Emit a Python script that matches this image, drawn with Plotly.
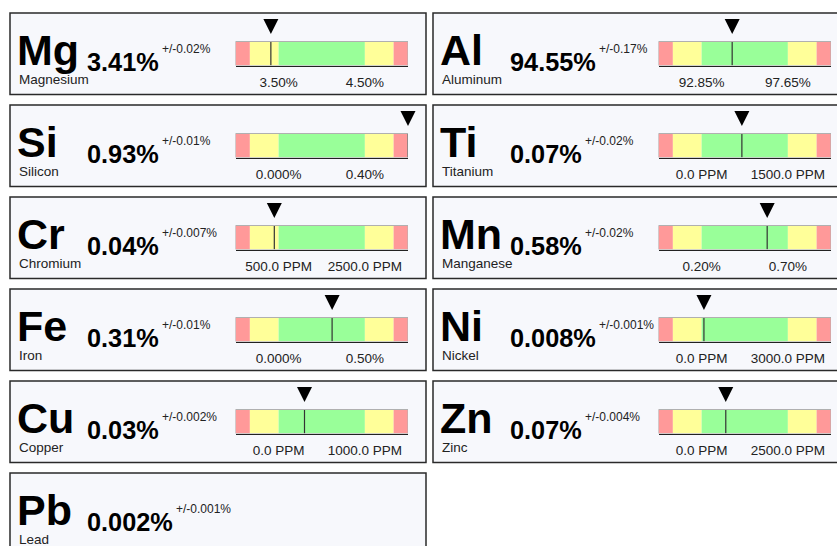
import plotly.graph_objects as go

# Element results, laid out row by row (two panels per row)
symbols = ["Mg", "Al", "Si", "Ti", "Cr", "Mn", "Fe", "Ni", "Cu", "Zn", "Pb"]
names = ["Magnesium", "Aluminum", "Silicon", "Titanium", "Chromium", "Manganese",
         "Iron", "Nickel", "Copper", "Zinc", "Lead"]
values = [3.41, 94.55, 0.93, 0.07, 0.04, 0.58, 0.31, 0.008, 0.03, 0.07, 0.002]          # %
uncertainties = [0.02, 0.17, 0.01, 0.02, 0.007, 0.02, 0.01, 0.001, 0.002, 0.004, 0.001]  # %
spec_min = [3.50, 92.85, 0.0, 0.0, 0.05, 0.20, 0.0, 0.0, 0.0, 0.0, None]                # %
spec_max = [4.50, 97.65, 0.40, 0.15, 0.25, 0.70, 0.50, 0.30, 0.10, 0.25, None]          # %
min_labels = ["3.50%", "92.85%", "0.000%", "0.0 PPM", "500.0 PPM", "0.20%",
              "0.000%", "0.0 PPM", "0.0 PPM", "0.0 PPM", None]
max_labels = ["4.50%", "97.65%", "0.40%", "1500.0 PPM", "2500.0 PPM", "0.70%",
              "0.50%", "3000.0 PPM", "1000.0 PPM", "2500.0 PPM", None]

ZONE_COLORS = ["#ff9999", "#ffff99", "#99ff99", "#ffff99", "#ff9999"]
FONT = "Liberation Sans, Arial, sans-serif"

W, H = 837, 546
COL_X = [10, 433]
PANEL_W, PANEL_H = 416, 81.5
ROW_Y0, ROW_STEP = 13, 92
BAR_PX = 24          # gauge bar height in pixels
HEAD_PX = 23.5       # room above the bar for the pointer

# Liberation Sans Bold advance widths (em) for the value strings
BOLD_W = {**{d: 0.556 for d in "0123456789"}, ".": 0.278, "%": 0.889}


def px(x):
    return x / W


def py(y):
    return 1 - y / H


annotations = []
shapes = []
layout_axes = {}
traces = []


def text_at(x, baseline, text, size, color, bold=False):
    center = baseline - 0.3465 * size
    annotations.append(dict(
        xref="paper", yref="paper", x=px(x), y=py(center),
        xanchor="left", yanchor="middle", text=text, showarrow=False,
        borderpad=0, borderwidth=0,
        font=dict(family=FONT, size=size, color=color,
                  weight="bold" if bold else "normal"),
    ))


ax_k = 0
for i, sym in enumerate(symbols):
    L = COL_X[i % 2]
    T = ROW_Y0 + ROW_STEP * (i // 2)

    shapes.append(dict(type="rect", xref="paper", yref="paper", layer="below",
                       x0=px(L), x1=px(L + PANEL_W), y0=py(T + PANEL_H), y1=py(T),
                       fillcolor="#f7f8fc", line=dict(color="#2a2a2a", width=1.5)))

    text_at(L + 7, T + 52, sym, 43, "#000", bold=True)
    text_at(L + 8.5, T + 71, names[i], 13.5, "#222")

    vtxt = f"{values[i]}%"
    vw = sum(BOLD_W[c] for c in vtxt) * 25.3
    text_at(L + 77, T + 57.5, vtxt, 25.3, "#000", bold=True)
    text_at(L + 77 + vw + 3, T + 40.5, f"+/-{uncertainties[i]}%", 12, "#222")

    if spec_min[i] is None:
        continue

    ax_k += 1
    xname = "xaxis" if ax_k == 1 else f"xaxis{ax_k}"
    yname = "yaxis" if ax_k == 1 else f"yaxis{ax_k}"
    xref = "x" if ax_k == 1 else f"x{ax_k}"
    yref = "y" if ax_k == 1 else f"y{ax_k}"

    mn, mx = spec_min[i], spec_max[i]
    span = mx - mn
    lo, hi = mn - span / 2, mx + span / 2
    edges = [lo, mn - span / 3, mn, mx, mx + span / 3, hi]

    # coloured tolerance zones
    traces.append(go.Bar(
        x=[edges[j + 1] - edges[j] for j in range(5)], base=edges[:5], y=[0] * 5,
        orientation="h", width=1, marker=dict(color=ZONE_COLORS, line=dict(width=0)),
        xaxis=xref, yaxis=yref, hoverinfo="skip", showlegend=False,
    ))
    # thin frame round the gauge
    shapes.append(dict(type="rect", xref=xref, yref=yref, x0=lo, x1=hi, y0=-0.5, y1=0.5,
                       line=dict(color="#b0b0b0", width=1), layer="above"))

    v = min(max(values[i], lo), hi)
    traces.append(go.Scatter(
        x=[v, v], y=[-0.5, 0.5], mode="lines", line=dict(color="#333", width=1.2),
        xaxis=xref, yaxis=yref, hoverinfo="skip", showlegend=False,
    ))
    traces.append(go.Scatter(
        x=[v], y=[0.5 + 7.5 / BAR_PX], mode="markers",
        marker=dict(symbol="arrow-down", size=15, color="#000"),
        cliponaxis=False, xaxis=xref, yaxis=yref, hoverinfo="skip", showlegend=False,
    ))

    layout_axes[xname] = dict(
        domain=[px(L + 225.5), px(L + 398)], range=[lo, hi], anchor=yref,
        showgrid=False, zeroline=False, showline=True, linecolor="#222", linewidth=1.2,
        tickmode="array", tickvals=[mn, mx], ticktext=[min_labels[i], max_labels[i]],
        ticks="", tickangle=0, ticklabelstandoff=4,
        tickfont=dict(family=FONT, size=13.5, color="#222"), fixedrange=True,
    )
    layout_axes[yname] = dict(
        domain=[py(T + 28.5 + BAR_PX), py(T + 28.5 - HEAD_PX)],
        range=[-0.5, 0.5 + HEAD_PX / BAR_PX], anchor=xref,
        showgrid=False, zeroline=False, showticklabels=False, ticks="",
        showline=False, fixedrange=True,
    )

fig = go.Figure(data=traces)
fig.update_layout(
    width=W, height=H, margin=dict(l=0, r=0, t=0, b=0),
    paper_bgcolor="#ffffff", plot_bgcolor="rgba(0,0,0,0)",
    showlegend=False, shapes=shapes, annotations=annotations,
    font=dict(family=FONT),
    **layout_axes,
)
fig.write_html("out.html", config={"displayModeBar": False})
